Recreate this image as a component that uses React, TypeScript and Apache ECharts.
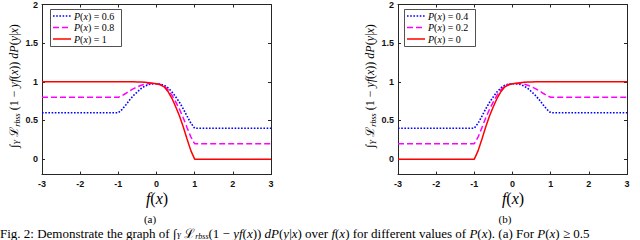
import React, { useEffect, useRef } from "react";
import * as echarts from "echarts";

const xs = [-3, -1, -0.9, -0.8, -0.7, -0.6, -0.5, -0.4, -0.3, -0.2, -0.1, 0, 0.1, 0.2, 0.3, 0.4, 0.5, 0.6, 0.7, 0.8, 0.9, 1, 3];

// (a) P(x) >= 0.5
const left06 = [0.6, 0.6, 0.644, 0.704, 0.768, 0.824, 0.871, 0.914, 0.946, 0.967, 0.974, 0.975, 0.970, 0.956, 0.922, 0.873, 0.808, 0.736, 0.652, 0.556, 0.466, 0.4, 0.4];
const left08 = [0.8, 0.8, 0.822, 0.852, 0.884, 0.912, 0.935, 0.956, 0.969, 0.977, 0.978, 0.975, 0.966, 0.946, 0.899, 0.831, 0.744, 0.648, 0.536, 0.408, 0.288, 0.2, 0.2];
const left1 = [1, 1, 1, 1, 1, 1, 0.999, 0.997, 0.993, 0.988, 0.982, 0.975, 0.962, 0.935, 0.875, 0.79, 0.68, 0.56, 0.42, 0.26, 0.11, 0, 0];

// (b) P(x) <= 0.5
const right04 = [0.4, 0.4, 0.466, 0.556, 0.652, 0.736, 0.808, 0.873, 0.922, 0.956, 0.970, 0.975, 0.974, 0.967, 0.946, 0.914, 0.871, 0.824, 0.768, 0.704, 0.644, 0.6, 0.6];
const right02 = [0.2, 0.2, 0.288, 0.408, 0.536, 0.648, 0.744, 0.831, 0.899, 0.946, 0.966, 0.975, 0.978, 0.977, 0.969, 0.956, 0.935, 0.912, 0.884, 0.852, 0.822, 0.8, 0.8];
const right0 = [0, 0, 0.11, 0.26, 0.42, 0.56, 0.68, 0.79, 0.875, 0.935, 0.962, 0.975, 0.982, 0.988, 0.993, 0.997, 0.999, 1, 1, 1, 1, 1, 1];

const leftNames = ["P(x) = 0.6", "P(x) = 0.8", "P(x) = 1"];
const rightNames = ["P(x) = 0.4", "P(x) = 0.2", "P(x) = 0"];
const yTicks = [0, 0.5, 1, 1.5, 2];
const xTickLabels = ["-3", "-2", "-1", "0", "1", "2", "3"];

const AX = "#262626";
const SERIF = "Liberation Serif";
const SANS = "Liberation Sans";

const styles = [
  { color: "#0000ff", type: "dotted" as any, width: 1.6, dash: [1.6, 1.6] },
  { color: "#ff00ff", type: [6, 3] as any, width: 1.5, dash: [6, 3] },
  { color: "#ff0000", type: "solid" as any, width: 1.5, dash: null as any },
];

function mk(arr: number[]) {
  return xs.map((x, i) => [x, arr[i]]);
}

const ylabelRich = {
  n: { fontFamily: SERIF, fontSize: 12, color: "#222", lineHeight: 15 },
  i: { fontFamily: SERIF, fontSize: 12, fontStyle: "italic", color: "#222", lineHeight: 15 },
  s: { fontFamily: SERIF, fontSize: 8, fontStyle: "italic", color: "#222", lineHeight: 15, verticalAlign: "bottom" },
};
const ylabelText =
  "{n|∫}{s|Y} {n|ℒ}{s|rbss}{n| (1 − }{i|yf}{n|(}{i|x}{n|)) }{i|dP}{n|(}{i|y}{n||}{i|x}{n|)}";

const captionRich = {
  n: { fontFamily: SERIF, fontSize: 13, color: "#111", lineHeight: 14 },
  i: { fontFamily: SERIF, fontSize: 13, fontStyle: "italic", color: "#111", lineHeight: 14 },
  s: { fontFamily: SERIF, fontSize: 8, fontStyle: "italic", color: "#111", lineHeight: 14, verticalAlign: "bottom" },
};
const captionText =
  "{n|Fig. 2: Demonstrate the graph of ∫}{s|Y}{n| }{n|ℒ}{s|rbss}{n|(1 − }{i|yf}{n|(}{i|x}{n|)) }{i|dP}{n|(}{i|y}{n||}{i|x}{n|) over }{i|f}{n|(}{i|x}{n|) for different values of }{i|P}{n|(}{i|x}{n|). (a) For }{i|P}{n|(}{i|x}{n|) ≥ 0.5}";

const legendRich = {
  n: { fontFamily: SERIF, fontSize: 10, color: "#111" },
  i: { fontFamily: SERIF, fontSize: 10, fontStyle: "italic", color: "#111" },
};

const fxRich = {
  n: { fontFamily: SERIF, fontSize: 16, color: "#222" },
  i: { fontFamily: SERIF, fontSize: 16, fontStyle: "italic", color: "#222" },
};

function legendGraphic(x0: number, names: string[]) {
  const els: any[] = [
    { type: "rect", shape: { x: x0 + 0.5, y: 9.5, width: 71, height: 37 }, style: { fill: "#fff", stroke: AX, lineWidth: 0.8 }, z: 50 },
  ];
  names.forEach((name, k) => {
    const cy = 16 + k * 11.5;
    els.push({
      type: "line", shape: { x1: x0 + 3, y1: cy, x2: x0 + 21, y2: cy }, z: 51,
      style: { stroke: styles[k].color, lineWidth: styles[k].width, lineDash: styles[k].dash },
    });
    els.push({
      type: "text", x: x0 + 24, y: cy, z: 51,
      style: {
        text: "{i|P}{n|(}{i|x}{n|) = " + name.split("= ")[1] + "}",
        rich: legendRich, textAlign: "left", textVerticalAlign: "middle",
      },
    });
  });
  return els;
}

function plainText(x: number, y: number, text: string, size: number) {
  return {
    type: "text", x, y,
    style: {
      text: "{n|" + text + "}",
      rich: { n: { fontFamily: SERIF, fontSize: size, color: "#222" } },
      textAlign: "center", textVerticalAlign: "middle",
    },
  };
}

function fxText(x: number, y: number) {
  return {
    type: "text", x, y,
    style: { text: "{i|f}{n|(}{i|x}{n|)}", rich: fxRich, textAlign: "center", textVerticalAlign: "middle" },
  };
}

export default function App() {
  const ref = useRef<HTMLDivElement>(null);
  useEffect(() => {
    if (!ref.current) return;
    const chart = echarts.init(ref.current, undefined, { renderer: "svg" });
    const grids = [
      { left: 42, top: 3, width: 229, height: 171.6 },
      { left: 398, top: 3, width: 229, height: 171.6 },
    ];
    const xAxes: any[] = [];
    const yAxes: any[] = [];
    grids.forEach((_, g) => {
      xAxes.push({
        type: "value", gridIndex: g, min: -3, max: 3, interval: 1, position: "bottom",
        axisLine: { show: true, onZero: false, lineStyle: { color: AX, width: 1 } },
        axisTick: { show: true, inside: true, length: 3, lineStyle: { color: AX } },
        axisLabel: {
          show: true, margin: 5, color: "#111", fontFamily: SANS, fontSize: 9, fontWeight: "bold",
          formatter: (v: number) => xTickLabels[Math.round(v) + 3],
        },
        splitLine: { show: false },
      });
      xAxes.push({
        type: "value", gridIndex: g, min: -3, max: 3, interval: 1, position: "top",
        axisLine: { show: true, onZero: false, lineStyle: { color: AX, width: 1 } },
        axisTick: { show: true, inside: true, length: 3, lineStyle: { color: AX } },
        axisLabel: { show: false },
        splitLine: { show: false },
      });
      yAxes.push({
        type: "value", gridIndex: g, min: -0.2, max: 2, position: "left",
        axisLine: { show: true, onZero: false, lineStyle: { color: AX, width: 1 } },
        axisTick: { show: true, inside: true, length: 3, lineStyle: { color: AX }, customValues: yTicks },
        axisLabel: {
          show: true, margin: 4, color: "#111", fontFamily: SANS, fontSize: 9, fontWeight: "bold",
          customValues: yTicks,
        },
        splitLine: { show: false },
      });
      yAxes.push({
        type: "value", gridIndex: g, min: -0.2, max: 2, position: "right",
        axisLine: { show: true, onZero: false, lineStyle: { color: AX, width: 1 } },
        axisTick: { show: true, inside: true, length: 3, lineStyle: { color: AX }, customValues: yTicks },
        axisLabel: { show: false, customValues: yTicks },
        splitLine: { show: false },
      });
    });

    const leftData = [left06, left08, left1];
    const rightData = [right04, right02, right0];
    const series: any[] = [];
    leftData.forEach((arr, k) => {
      series.push({
        name: leftNames[k], type: "line", xAxisIndex: 0, yAxisIndex: 0, data: mk(arr),
        symbol: "none", showSymbol: false,
        lineStyle: { color: styles[k].color, type: styles[k].type, width: styles[k].width },
        itemStyle: { color: styles[k].color },
      });
    });
    rightData.forEach((arr, k) => {
      series.push({
        name: rightNames[k], type: "line", xAxisIndex: 2, yAxisIndex: 2, data: mk(arr),
        symbol: "none", showSymbol: false,
        lineStyle: { color: styles[k].color, type: styles[k].type, width: styles[k].width },
        itemStyle: { color: styles[k].color },
      });
    });

    const graphic: any[] = [
      fxText(157, 198),
      fxText(513, 198),
      plainText(150, 219, "(a)", 11),
      plainText(505, 219, "(b)", 11),
      { type: "text", x: 14, y: 86, rotation: Math.PI / 2, style: { text: ylabelText, rich: ylabelRich, textAlign: "center", textVerticalAlign: "middle" } },
      { type: "text", x: 370, y: 86, rotation: Math.PI / 2, style: { text: ylabelText, rich: ylabelRich, textAlign: "center", textVerticalAlign: "middle" } },
      { type: "text", x: 0, y: 226, style: { text: captionText, rich: captionRich, textAlign: "left", textVerticalAlign: "top" } },
      ...legendGraphic(50, leftNames),
      ...legendGraphic(404, rightNames),
    ];

    chart.setOption({
      animation: false,
      backgroundColor: "#fff",
      grid: grids,
      xAxis: xAxes,
      yAxis: yAxes,
      series,
      graphic,
    });
    return () => chart.dispose();
  }, []);
  return <div ref={ref} style={{ position: "fixed", left: 0, top: 0, width: 640, height: 240, background: "#fff" }} />;
}
